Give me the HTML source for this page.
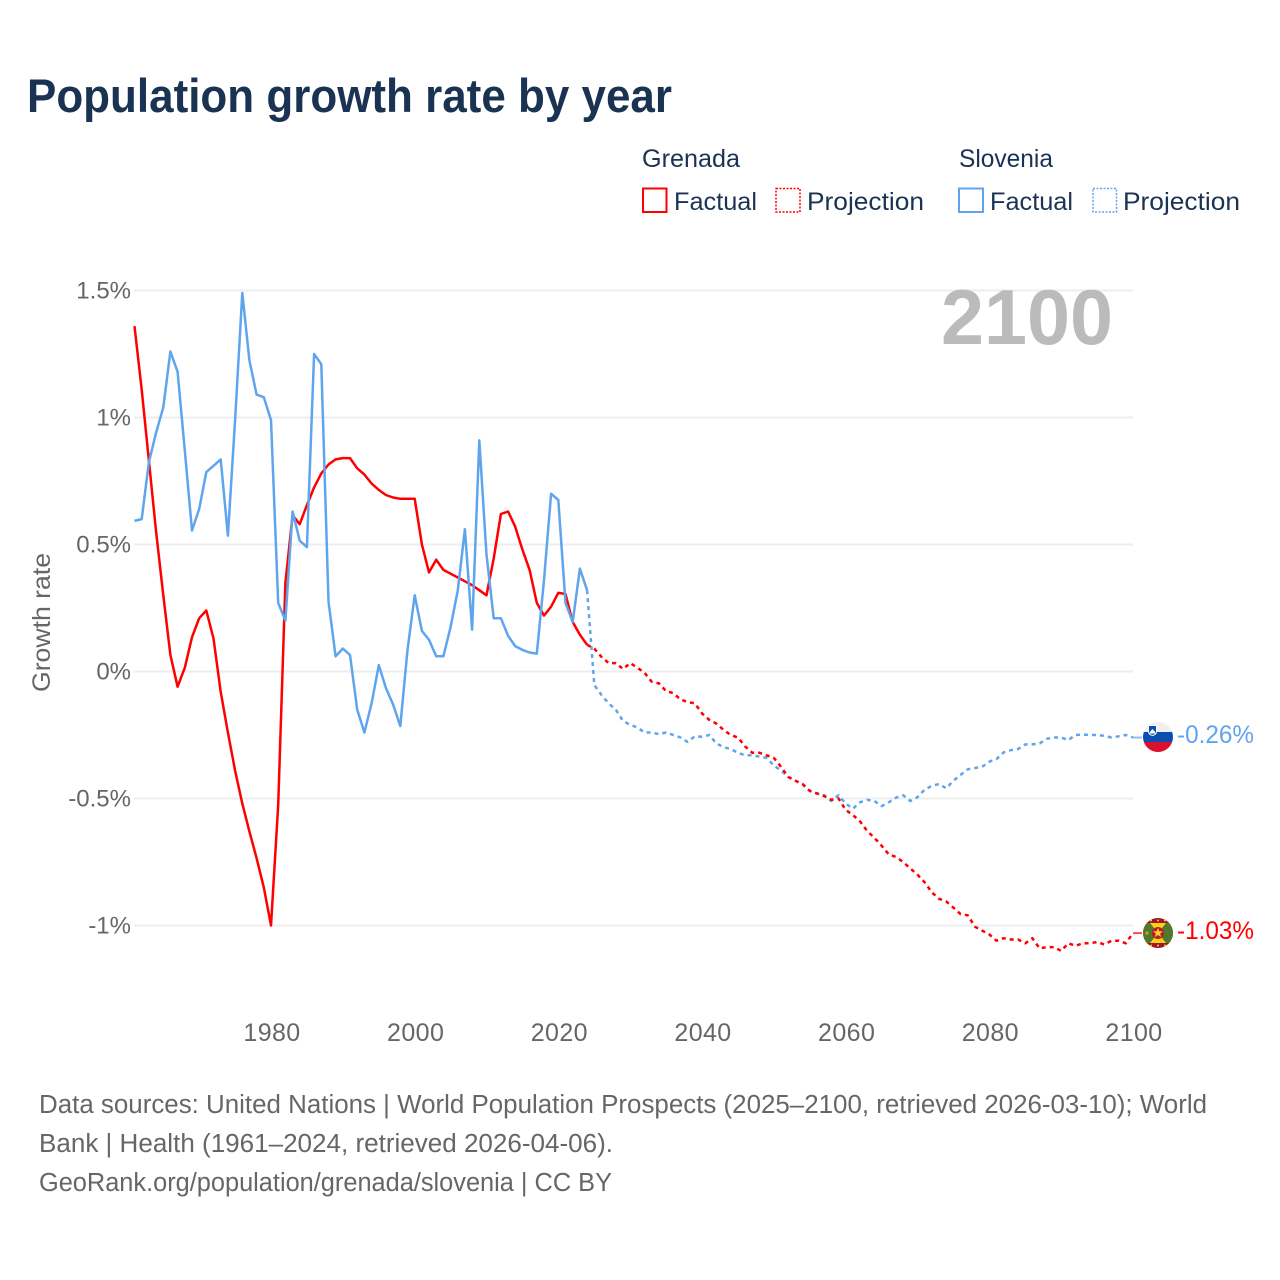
<!DOCTYPE html>
<html lang="en">
<head>
<meta charset="utf-8">
<title>Population growth rate by year</title>
<style>
html,body{margin:0;padding:0;background:#fff;width:1280px;height:1280px;overflow:hidden}
svg{display:block}
text{font-family:"Liberation Sans",sans-serif}
</style>
</head>
<body>
<svg id="chart" xmlns="http://www.w3.org/2000/svg" width="1280" height="1280" viewBox="0 0 1280 1280">
  <rect width="1280" height="1280" fill="#fff"/>
  <text x="27" y="112" font-size="47" font-weight="700" fill="#1a3353" textLength="645" lengthAdjust="spacingAndGlyphs">Population growth rate by year</text>

  <g fill="#1a3353" font-size="25">
    <text x="642" y="167" textLength="98" lengthAdjust="spacingAndGlyphs">Grenada</text>
    <text x="959" y="167" textLength="94" lengthAdjust="spacingAndGlyphs">Slovenia</text>
    <g>
      <rect x="643" y="188.5" width="23.5" height="23.5" fill="none" stroke="#ff0000" stroke-width="2"/>
      <text x="674" y="210" textLength="83" lengthAdjust="spacingAndGlyphs">Factual</text>
    </g>
    <g>
      <rect x="776" y="188.5" width="24" height="23.5" fill="none" stroke="#ff0000" stroke-width="1.5" stroke-dasharray="2 1.5"/>
      <text x="807" y="210" textLength="117" lengthAdjust="spacingAndGlyphs">Projection</text>
    </g>
    <g>
      <rect x="959" y="188.5" width="24" height="23.5" fill="none" stroke="#5fa5ee" stroke-width="2"/>
      <text x="990" y="210" textLength="83" lengthAdjust="spacingAndGlyphs">Factual</text>
    </g>
    <g>
      <rect x="1093" y="188.5" width="23.5" height="23.5" fill="none" stroke="#5fa5ee" stroke-width="1.5" stroke-dasharray="2 1.5"/>
      <text x="1123" y="210" textLength="117" lengthAdjust="spacingAndGlyphs">Projection</text>
    </g>
  </g>

  <g id="grid"></g>
  <text x="1113" y="344" text-anchor="end" font-size="78" font-weight="700" fill="#bbbbbb" textLength="172" lengthAdjust="spacingAndGlyphs">2100</text>
  <g id="yticks" fill="#666" font-size="24"></g>
  <g id="xticks" fill="#666" font-size="25"></g>
  <text transform="translate(50,692) rotate(-90)" font-size="25" fill="#666" textLength="139" lengthAdjust="spacingAndGlyphs">Growth rate</text>
  <g id="series"></g>

  <defs>
    <clipPath id="clip-si"><circle cx="1158" cy="737" r="15"/></clipPath>
    <clipPath id="clip-gd"><circle cx="1158" cy="933" r="15"/></clipPath>
  </defs>
  <g clip-path="url(#clip-si)">
    <rect x="1143" y="722" width="30" height="10.5" fill="#efefef"/>
    <rect x="1143" y="732" width="30" height="10" fill="#0a4fb0"/>
    <rect x="1143" y="742" width="30" height="11" fill="#dc0f2e"/>
    <path d="M1148.5 725.5h8v6q0 3-4 4q-4-1-4-4z" fill="#0a4fb0" stroke="#fff" stroke-width="1"/>
    <path d="M1149.8 732l2.7-3l2.7 3v1.5h-5.4z" fill="#fff"/>
  </g>
  <g clip-path="url(#clip-gd)">
    <rect x="1143" y="918" width="30" height="30" fill="#a0142e"/>
    <rect x="1143" y="923" width="30" height="20" fill="#fcd116"/>
    <path d="M1143 923H1150L1158 933L1150 943H1143z" fill="#4d7a2c"/>
    <path d="M1173 923H1166L1158 933L1166 943H1173z" fill="#4d7a2c"/>
    <circle cx="1158" cy="933" r="6" fill="#b51c30"/>
    <path d="M1158 928l1.4 3.4h3.6l-2.9 2.2l1.1 3.5l-3.2-2.1l-3.2 2.1l1.1-3.5l-2.9-2.2h3.6z" fill="#fcd116"/>
    <circle cx="1147" cy="933" r="1.7" fill="#d9902a"/>
    <g fill="#fcd116"><circle cx="1151" cy="920.5" r="1"/><circle cx="1158" cy="920.5" r="1"/><circle cx="1165" cy="920.5" r="1"/><circle cx="1151" cy="945.5" r="1"/><circle cx="1158" cy="945.5" r="1"/><circle cx="1165" cy="945.5" r="1"/></g>
  </g>
  <text x="1177" y="743" font-size="25" fill="#5fa5ee" textLength="77" lengthAdjust="spacingAndGlyphs">-0.26%</text>
  <text x="1177" y="939" font-size="25" fill="#ff0000" textLength="77" lengthAdjust="spacingAndGlyphs">-1.03%</text>

  <g fill="#666" font-size="25.5">
    <text x="39" y="1113" textLength="1168" lengthAdjust="spacingAndGlyphs">Data sources: United Nations | World Population Prospects (2025–2100, retrieved 2026-03-10); World</text>
    <text x="39" y="1152" textLength="574" lengthAdjust="spacingAndGlyphs">Bank | Health (1961–2024, retrieved 2026-04-06).</text>
    <text x="39" y="1191" textLength="573" lengthAdjust="spacingAndGlyphs">GeoRank.org/population/grenada/slovenia | CC BY</text>
  </g>
</svg>
<script>
var factualStartYear = 1961;
var projectionStartYear = 2024;
var yTickValues = [1.5, 1, 0.5, 0, -0.5, -1];
var yTickLabels = ["1.5%", "1%", "0.5%", "0%", "-0.5%", "-1%"];
var xTickValues = [1980, 2000, 2020, 2040, 2060, 2080, 2100];
var xTickLabels = ["1980", "2000", "2020", "2040", "2060", "2080", "2100"];

var grenadaFactual = [1.36,1.11,0.83,0.55,0.30,0.065,-0.06,0.015,0.135,0.21,0.24,0.13,-0.08,-0.24,-0.39,-0.52,-0.63,-0.735,-0.85,-1.0,-0.525,0.35,0.615,0.58,0.655,0.725,0.78,0.815,0.835,0.84,0.84,0.80,0.775,0.74,0.715,0.695,0.685,0.68,0.68,0.68,0.50,0.39,0.44,0.40,0.385,0.37,0.355,0.34,0.32,0.30,0.445,0.62,0.63,0.57,0.48,0.40,0.27,0.22,0.255,0.31,0.305,0.195,0.145,0.105];
var grenadaProjection = [0.105,0.09,0.058,0.033,0.033,0.01,0.033,0.015,-0.005,-0.04,-0.047,-0.077,-0.085,-0.11,-0.12,-0.125,-0.165,-0.19,-0.205,-0.23,-0.25,-0.26,-0.295,-0.32,-0.32,-0.33,-0.34,-0.375,-0.415,-0.43,-0.443,-0.47,-0.48,-0.49,-0.505,-0.50,-0.545,-0.565,-0.59,-0.628,-0.655,-0.686,-0.72,-0.73,-0.75,-0.775,-0.80,-0.83,-0.87,-0.895,-0.905,-0.93,-0.955,-0.96,-1.005,-1.02,-1.035,-1.06,-1.05,-1.055,-1.055,-1.07,-1.05,-1.09,-1.085,-1.085,-1.10,-1.07,-1.08,-1.07,-1.07,-1.065,-1.075,-1.06,-1.06,-1.07,-1.03];
var sloveniaFactual = [0.593,0.60,0.825,0.94,1.04,1.26,1.18,0.87,0.555,0.64,0.785,0.81,0.835,0.535,0.99,1.49,1.225,1.09,1.08,0.99,0.27,0.20,0.63,0.515,0.49,1.25,1.21,0.275,0.06,0.09,0.065,-0.15,-0.24,-0.125,0.025,-0.065,-0.13,-0.215,0.085,0.30,0.16,0.125,0.06,0.06,0.175,0.32,0.56,0.165,0.91,0.46,0.21,0.21,0.14,0.10,0.085,0.075,0.07,0.36,0.70,0.675,0.27,0.195,0.405,0.32];
var sloveniaProjection = [0.32,-0.053,-0.092,-0.125,-0.15,-0.195,-0.21,-0.22,-0.24,-0.24,-0.247,-0.24,-0.25,-0.26,-0.277,-0.255,-0.257,-0.25,-0.283,-0.298,-0.305,-0.32,-0.33,-0.33,-0.335,-0.34,-0.37,-0.39,-0.415,-0.43,-0.445,-0.47,-0.48,-0.487,-0.51,-0.487,-0.52,-0.54,-0.515,-0.505,-0.51,-0.53,-0.515,-0.497,-0.487,-0.51,-0.495,-0.465,-0.45,-0.443,-0.46,-0.43,-0.407,-0.385,-0.38,-0.375,-0.355,-0.345,-0.318,-0.31,-0.305,-0.287,-0.287,-0.283,-0.265,-0.26,-0.26,-0.27,-0.25,-0.248,-0.25,-0.25,-0.253,-0.26,-0.255,-0.25,-0.26];

var SVG_NS = 'http://www.w3.org/2000/svg';
function xScale(year) { return 271 + (year - 1980) * (1133 - 271) / 120; }
function yScale(value) { return 671.5 - value * 254; }
function seriesPoints(values, startYear) {
  return values.map(function (v, i) {
    return xScale(startYear + i).toFixed(1) + ',' + yScale(v).toFixed(1);
  }).join(' ');
}

var gridGroup = document.getElementById('grid');
var yTickGroup = document.getElementById('yticks');
yTickValues.forEach(function (v, i) {
  var line = document.createElementNS(SVG_NS, 'line');
  
  
  line.setAttribute('x1', 134);
  line.setAttribute('x2', 1133);
  line.setAttribute('y1', yScale(v));
  line.setAttribute('y2', yScale(v));
  line.setAttribute('stroke', '#eeeeee');
  line.setAttribute('stroke-width', 2);
  gridGroup.appendChild(line);
  var t = document.createElementNS(SVG_NS, 'text');
  
  
  t.setAttribute('x', 131);
  t.setAttribute('y', yScale(v) + 8);
  t.setAttribute('text-anchor', 'end');
  t.textContent = yTickLabels[i];
  yTickGroup.appendChild(t);
});

var xTickGroup = document.getElementById('xticks');
xTickValues.forEach(function (v, i) {
  var t = document.createElementNS(SVG_NS, 'text');
  
  
  t.setAttribute('x', xScale(v) + 1);
  t.setAttribute('y', 1041);
  t.setAttribute('text-anchor', 'middle');
  t.setAttribute('letter-spacing', '0.4');
  t.textContent = xTickLabels[i];
  xTickGroup.appendChild(t);
});

var seriesGroup = document.getElementById('series');
function addLine(name, values, startYear, color, dashed) {
  var p = document.createElementNS(SVG_NS, 'polyline');
  
  
  p.setAttribute('points', seriesPoints(values, startYear));
  p.setAttribute('fill', 'none');
  p.setAttribute('stroke', color);
  p.setAttribute('stroke-width', 2.5);
  p.setAttribute('stroke-linejoin', 'round');
  if (dashed) {
    p.setAttribute('stroke-dasharray', '4 4');
  }
  seriesGroup.appendChild(p);
}
addLine('slovenia-projection-line', sloveniaProjection, projectionStartYear, '#5fa5ee', true);
addLine('grenada-projection-line', grenadaProjection, projectionStartYear, '#ff0000', true);
addLine('grenada-factual-line', grenadaFactual, factualStartYear, '#ff0000', false);
addLine('slovenia-factual-line', sloveniaFactual, factualStartYear, '#5fa5ee', false);

function addConnector(name, values, color) {
  var c = document.createElementNS(SVG_NS, 'line');
  
  
  var last = values[values.length - 1];
  c.setAttribute('x1', xScale(2100));
  c.setAttribute('x2', xScale(2100) + 9);
  c.setAttribute('y1', yScale(last));
  c.setAttribute('y2', yScale(last));
  c.setAttribute('stroke', color);
  c.setAttribute('stroke-width', 2);
  c.setAttribute('stroke-opacity', 0.7);
  seriesGroup.appendChild(c);
}
addConnector('slovenia-label-connector', sloveniaProjection, '#5fa5ee');
addConnector('grenada-label-connector', grenadaProjection, '#ff0000');
</script>
</body>
</html>
